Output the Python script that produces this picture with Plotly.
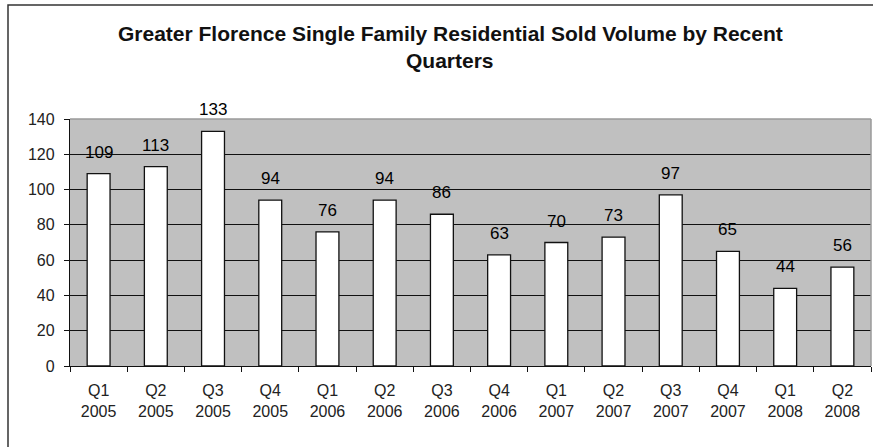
import plotly.graph_objects as go

# Quarterly sold volume, Greater Florence single family residential
quarters = ["Q1", "Q2", "Q3", "Q4", "Q1", "Q2", "Q3", "Q4", "Q1", "Q2", "Q3", "Q4", "Q1", "Q2"]
years = ["2005", "2005", "2005", "2005", "2006", "2006", "2006", "2006",
         "2007", "2007", "2007", "2007", "2008", "2008"]
sold_volume = [109, 113, 133, 94, 76, 94, 86, 63, 70, 73, 97, 65, 44, 56]
y_ticks = [0, 20, 40, 60, 80, 100, 120, 140]

categories = [f"{q}<br>{y}" for q, y in zip(quarters, years)]
FONT = "Liberation Sans, Arial, sans-serif"

fig = go.Figure()
fig.add_trace(go.Bar(
    x=categories,
    y=sold_volume,
    marker=dict(color="white", line=dict(color="#111111", width=1.3)),
    hoverinfo="x+y",
))

# value labels above each bar
for cat, val in zip(categories, sold_volume):
    fig.add_annotation(
        x=cat, y=val, text=str(val), showarrow=False,
        yanchor="bottom", yshift=10,
        font=dict(family=FONT, size=17, color="#000000"),
    )

# title (two lines)
fig.add_annotation(
    xref="paper", yref="paper", x=(450 - 70) / 801, y=(366 - 33) / 247,
    text="<b>Greater Florence Single Family Residential Sold Volume by Recent</b>",
    showarrow=False, xanchor="center", yanchor="middle",
    font=dict(family=FONT, size=21, color="#111111"),
)
fig.add_annotation(
    xref="paper", yref="paper", x=(450 - 70) / 801, y=(366 - 60) / 247,
    text="<b>Quarters</b>",
    showarrow=False, xanchor="center", yanchor="middle",
    font=dict(family=FONT, size=21, color="#111111"),
)

# outer chart frame and the grey top/right edges of the plot area
fig.add_shape(type="rect", xref="paper", yref="paper",
              x0=(8 - 70) / 801, x1=1.2, y0=-1.0, y1=(366 - 5) / 247,
              line=dict(color="#333333", width=1.5), fillcolor="rgba(0,0,0,0)")
fig.add_shape(type="line", xref="paper", yref="paper", x0=0, x1=1, y0=1, y1=1,
              line=dict(color="#9a9a9a", width=1.5))
fig.add_shape(type="line", xref="paper", yref="paper", x0=1, x1=1, y0=0, y1=1,
              line=dict(color="#9a9a9a", width=1.5))

fig.update_layout(
    width=873, height=447,
    margin=dict(l=70, r=2, t=119, b=81),
    paper_bgcolor="white",
    plot_bgcolor="#c0c0c0",
    bargap=0.6,
    showlegend=False,
    font=dict(family=FONT, size=16, color="#222222"),
)
fig.update_xaxes(
    type="category",
    showline=True, linecolor="#111111", linewidth=1.3,
    ticks="outside", tickson="boundaries", ticklen=5, tickcolor="#111111",
    ticklabelstandoff=10,
    showgrid=False,
    tickfont=dict(family=FONT, size=16, color="#222222"),
)
fig.update_yaxes(
    range=[0, 140], tickvals=y_ticks,
    showline=True, linecolor="#111111", linewidth=1.3,
    ticks="outside", ticklen=5, tickcolor="#111111",
    ticklabelstandoff=6,
    showgrid=True, gridcolor="#111111", gridwidth=1.3,
    zeroline=False,
    tickfont=dict(family=FONT, size=16, color="#222222"),
)

fig.write_html("out.html")
